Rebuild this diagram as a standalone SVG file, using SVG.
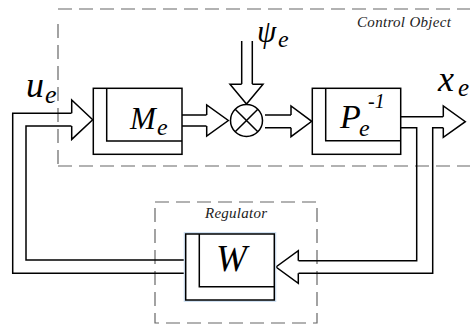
<svg xmlns="http://www.w3.org/2000/svg" width="470" height="325" viewBox="0 0 470 325">
  <style>
    .ln { fill: none; stroke: #000; stroke-width: 1.5; stroke-linejoin: miter; }
    .hd { fill: #fff; stroke: #000; stroke-width: 1.5; stroke-linejoin: miter; }
    .blk { fill: #fff; stroke: #000; stroke-width: 1.5; }
    .dash { fill: none; stroke: #666; stroke-width: 1.2; stroke-dasharray: 14 7; }
    .math { font-family: 'Liberation Serif', 'DejaVu Serif', serif; font-style: italic; fill: #000; }
    .lbl { font-family: 'Liberation Serif', 'DejaVu Serif', serif; font-style: italic; font-size: 15px; fill: #222; }
  </style>

  <!-- boundaries -->
  <g id="control-object">
    <path class="dash" d="M58,9 H470 M58,166 H470 M58,24 V166"/>
    <text class="lbl" x="357" y="27" textLength="94" lengthAdjust="spacing">Control Object</text>
  </g>
  <g id="regulator-box">
    <rect class="dash" x="155" y="202" width="162" height="121"/>
    <text class="lbl" x="205" y="218" textLength="62" lengthAdjust="spacing">Regulator</text>
  </g>

  <!-- connectors: double-line hollow arrows -->
  <g id="connectors">
    <!-- feedback into M_e -->
    <path class="ln" d="M186,273.3 H12.7 V113.3 H71.7"/>
    <path class="ln" d="M186,260 H26 V126 H71.7"/>
    <polyline class="hd" points="71.7,113.3 71.7,100 92.7,119.7 71.7,139.4 71.7,126"/>
    <!-- M_e to junction -->
    <path class="ln" d="M182,115 H206.7 M182,126 H206.7"/>
    <polyline class="hd" points="206.7,115 206.7,105 228.3,120.5 206.7,136 206.7,126"/>
    <!-- disturbance psi_e -->
    <path class="ln" d="M241.7,41 V84.3 M252.3,41 V84.3"/>
    <polyline class="hd" points="241.7,84.3 230,84.3 246.5,104 263,84.3 252.3,84.3"/>
    <!-- junction to P -->
    <path class="ln" d="M265,115 H291 M265,127.7 H291"/>
    <polyline class="hd" points="291,115 291,106 311.7,121.3 291,136.7 291,127.7"/>
    <!-- output x_e and branch down to W -->
    <path class="ln" d="M400.7,116.7 H443.3"/>
    <polyline class="hd" points="443.3,116.7 443.3,106 465.3,121.7 443.3,137.3 443.3,127.7"/>
    <path class="ln" d="M400.7,127.7 H416.7 V260.7 H298.3"/>
    <path class="ln" d="M443.3,127.7 H432.7 V273.3 H298.3"/>
    <polyline class="hd" points="298.3,260.7 298.3,250.7 276,267 298.3,283.3 298.3,273.3"/>
  </g>

  <!-- summing junction -->
  <g id="junction">
    <circle class="blk" cx="246.5" cy="120.5" r="16"/>
    <path class="ln" d="M235.2,109.2 L257.8,131.8 M257.8,109.2 L235.2,131.8"/>
  </g>

  <!-- blocks -->
  <g id="block-M">
    <rect class="blk" x="93.3" y="88.3" width="88.7" height="66"/>
    <path class="ln" d="M106.7,88.3 V141 H182"/>
    <text class="math" x="130" y="129" font-size="31">M<tspan x="157" y="135" font-size="24">e</tspan></text>
  </g>

  <g id="block-P">
    <rect class="blk" x="312.3" y="88.3" width="88.4" height="66"/>
    <path class="ln" d="M325.7,88.3 V140.7 H400.7"/>
    <text class="math" x="340" y="128" font-size="34">P<tspan x="359" y="136" font-size="24">e</tspan><tspan x="368" y="108" font-size="20">-1</tspan></text>
  </g>

  <g id="block-W">
    <rect x="185.7" y="234" width="88.6" height="66" fill="none" stroke="#cfe0f2" stroke-width="4"/>
    <rect class="blk" x="185.7" y="234" width="88.6" height="66"/>
    <path class="ln" d="M199.3,234 V286.7 H274.3"/>
    <text class="math" x="216" y="271" font-size="37">W</text>
  </g>

  <!-- signal labels -->
  <g id="labels">
    <text class="math" x="26" y="97" font-size="36">u<tspan x="45" y="103" font-size="26">e</tspan></text>
    <text class="math" x="257" y="42" font-size="31">ψ<tspan x="278" y="47" font-size="24">e</tspan></text>
    <text class="math" x="438" y="91" font-size="36">x<tspan x="458" y="96" font-size="25">e</tspan></text>
  </g>
</svg>
